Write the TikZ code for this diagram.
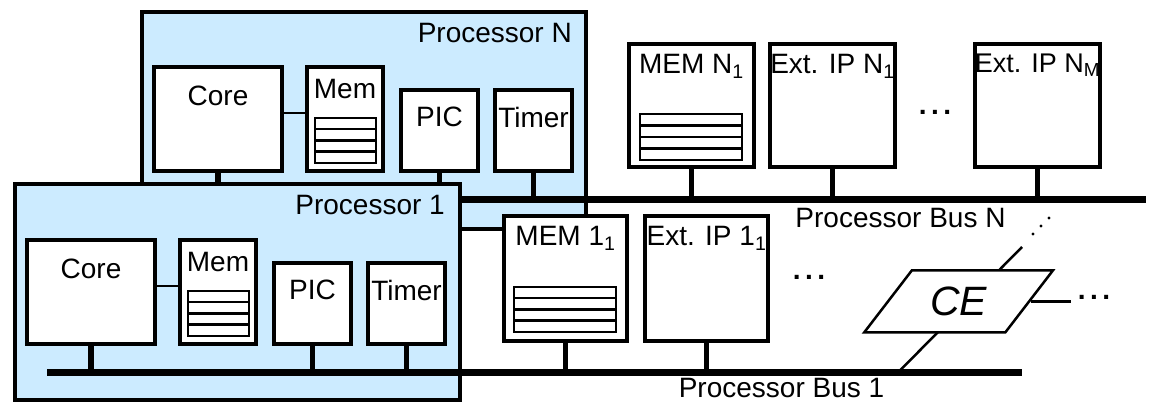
\documentclass[tikz,border=0pt]{standalone}
\usepackage{fontspec}
\setmainfont{Liberation Sans}
\usepackage{xcolor}
\usepackage{tikz}
\usetikzlibrary{positioning}
\usetikzlibrary{shapes.geometric}

\definecolor{procblue}{RGB}{204,235,255}

\tikzset{
	procbox/.style={draw, fill=procblue, line width=4pt, inner sep=0pt},
	unit/.style={draw, fill=white, line width=4.5pt, inner sep=0pt},
	regs/.style={draw, fill=white, line width=2.5pt, inner sep=0pt,
		path picture={
			\foreach \f in {0.25,0.5,0.75}
				\draw[line width=2.5pt] ([yshift=-\f*\pgfkeysvalueof{/pgf/minimum height}]path picture bounding box.north west)
				-- ([yshift=-\f*\pgfkeysvalueof{/pgf/minimum height}]path picture bounding box.north east);
		}},
	lbl/.style={inner sep=0pt, font=\fontsize{28}{31}\selectfont},
	dotsbox/.style={inner sep=0pt, font=\fontsize{28}{31}\selectfont\bfseries},
	bus/.style={line width=7pt},
	stub/.style={line width=5.5pt},
	link/.style={line width=2pt},
	ce/.style={draw, fill=white, trapezium, trapezium left angle=45, trapezium right angle=135,
		trapezium stretches=true, minimum width=189pt, minimum height=62pt,
		line width=2.5pt, inner sep=0pt, font=\fontsize{41}{45}\selectfont\itshape},
}

\begin{document}
\begin{tikzpicture}[x=1pt, y=-1pt]

		\useasboundingbox (0,0) rectangle (1154,403);

		% Bus end points
		\coordinate (busNw) at (174,199.5);
		\coordinate (busNe) at (1146,199.5);
		\coordinate (bus1w) at (47,372.5);
		\coordinate (bus1e) at (1022,372.5);

		% Processor N (behind)
		\node[procbox, minimum width=444pt, minimum height=217pt] (procN) at (364,120.5) {};
		\node[lbl, below left=13pt and 16pt of procN.north east] (procNtxt) {Processor N};

		\node[unit, minimum width=128pt, minimum height=104pt] (coreN) at (218,119) {};
		\node[unit, minimum width=76pt, minimum height=104pt] (memN) at (345,119) {};
		\node[unit, minimum width=77pt, minimum height=81pt] (picN) at (439.5,130.5) {};
		\node[unit, minimum width=77pt, minimum height=81pt] (timerN) at (533.5,130.5) {};
		\node[regs, minimum width=61pt, minimum height=45pt] (regsN) at (345.5,140.5) {};

		\node[lbl, below=21pt of coreN.north] (coreNtxt) {Core};
		\node[lbl, below=14pt of memN.north] (memNtxt) {Mem};
		\node[lbl, below=19pt of picN.north] (picNtxt) {PIC};
		\node[lbl, below=19pt of timerN.north] (timerNtxt) {Timer};

		\draw[link] ([yshift=6pt]coreN.east) -- ([yshift=6pt]coreN.east -| memN.west);
		\draw[stub] (coreN.south) -- (coreN.south |- busNw);
		\draw[stub] (picN.south) -- (picN.south |- busNw);
		\draw[stub] (timerN.south) -- (timerN.south |- busNw);

		% Processor Bus N and its units
		\draw[bus] (busNw) -- (busNe);
		\node[lbl, anchor=north] (busNtxt) at (900.5,208) {Processor Bus N};

		\node[unit, minimum width=125pt, minimum height=123pt] (memNone) at (691.5,105.5) {};
		\node[unit, minimum width=125pt, minimum height=123pt] (extNone) at (832.5,105.5) {};
		\node[unit, minimum width=125pt, minimum height=123pt] (extNM) at (1037.5,105.5) {};
		\node[regs, minimum width=102pt, minimum height=46pt] (regsNone) at (691,137) {};
		\node[dotsbox] (dotsN) at (935,112) {.\hspace{4.5pt}.\hspace{4.5pt}.};

		\node[lbl, below=12pt of memNone.north] (memNonetxt) {MEM N\textsubscript{1}};
		\node[lbl, below=12pt of extNone.north] (extNonetxt) {Ext. IP N\textsubscript{1}};
		\node[lbl, below=12pt of extNM.north, font=\fontsize{27}{30}\selectfont] (extNMtxt) {Ext. IP N\textsubscript{M}};

		\draw[stub] (memNone.south) -- (memNone.south |- busNw);
		\draw[stub] (extNone.south) -- (extNone.south |- busNw);
		\draw[stub] (extNM.south) -- (extNM.south |- busNw);

		% Processor 1 (front)
		\node[procbox, minimum width=445pt, minimum height=216pt] (proc1) at (237.5,292) {};
		\node[lbl, below left=13pt and 17pt of proc1.north east] (proc1txt) {Processor 1};

		\node[unit, minimum width=128pt, minimum height=104pt] (core1) at (91,292) {};
		\node[unit, minimum width=76pt, minimum height=104pt] (mem1) at (218,292) {};
		\node[unit, minimum width=77pt, minimum height=81pt] (pic1) at (312.5,303.5) {};
		\node[unit, minimum width=77pt, minimum height=81pt] (timer1) at (406.5,303.5) {};
		\node[regs, minimum width=61pt, minimum height=45pt] (regs1) at (218.5,313.5) {};

		\node[lbl, below=21pt of core1.north] (core1txt) {Core};
		\node[lbl, below=14pt of mem1.north] (mem1txt) {Mem};
		\node[lbl, below=19pt of pic1.north] (pic1txt) {PIC};
		\node[lbl, below=19pt of timer1.north] (timer1txt) {Timer};

		\draw[link] ([yshift=6pt]core1.east) -- ([yshift=6pt]core1.east -| mem1.west);
		\draw[stub] (core1.south) -- (core1.south |- bus1w);
		\draw[stub] (pic1.south) -- (pic1.south |- bus1w);
		\draw[stub] (timer1.south) -- (timer1.south |- bus1w);

		% Processor Bus 1 and its units
		\draw[bus] (bus1w) -- (bus1e);
		\node[lbl, anchor=north] (bus1txt) at (781.5,378) {Processor Bus 1};

		\node[unit, minimum width=123pt, minimum height=125pt] (memOne) at (565.5,278.5) {};
		\node[unit, minimum width=123pt, minimum height=125pt] (extOne) at (706.5,278.5) {};
		\node[regs, minimum width=102pt, minimum height=45pt] (regsOne) at (565,309.5) {};
		\node[dotsbox] (dots1) at (809,277) {.\hspace{4.5pt}.\hspace{4.5pt}.};

		\node[lbl, below=12pt of memOne.north] (memOnetxt) {MEM 1\textsubscript{1}};
		\node[lbl, below=12pt of extOne.north] (extOnetxt) {Ext. IP 1\textsubscript{1}};

		\draw[stub] (memOne.south) -- (memOne.south |- bus1w);
		\draw[stub] (extOne.south) -- (extOne.south |- bus1w);

		% CE between the buses
		\coordinate (ceFoot) at (898,372.5);
		\coordinate (ceHead) at (1022,247);
		\draw[line width=2.5pt] (ceFoot) -- (ceHead);
		\fill (ceHead) ++(11,-13) circle (1.6pt) ++(8,-8) circle (1.6pt) ++(8,-8) circle (1.6pt);

		\node[ce] (ce) at (958.5,301.5) {CE};
		\node[dotsbox] (dotsCE) at (1094,297) {.\hspace{4.5pt}.\hspace{4.5pt}.};
		\draw[line width=2.5pt] (ce.east) -- ++(40,0);

	\end{tikzpicture}
\end{document}
